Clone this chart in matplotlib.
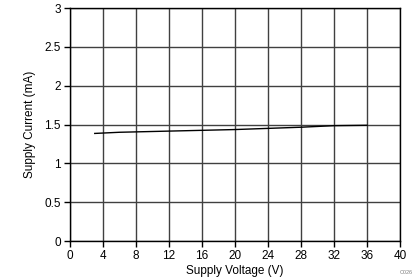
import matplotlib
matplotlib.use("Agg")
import matplotlib.pyplot as plt

voltage = [3, 4, 6, 8, 12, 16, 20, 24, 28, 30, 32, 36]
current = [1.385, 1.39, 1.40, 1.405, 1.415, 1.425, 1.435, 1.45, 1.465, 1.475, 1.485, 1.49]
xticks = [0, 4, 8, 12, 16, 20, 24, 28, 32, 36, 40]
yticks = [0, 0.5, 1, 1.5, 2, 2.5, 3]
ytick_labels = ["0", "0.5", "1", "1.5", "2", "2.5", "3"]

plt.rcParams['font.family'] = ['Liberation Sans', 'DejaVu Sans']
fig = plt.figure(figsize=(4.19, 2.79), dpi=100)
ax = fig.add_axes([70/419, 1-241/279, 330/419, 233/279])
ax.plot(voltage, current, color='black', lw=1.0)
ax.set_xlim(0, 40)
ax.set_ylim(0, 3)
ax.set_xticks(xticks)
ax.set_yticks(yticks)
ax.set_yticklabels(ytick_labels)
ax.grid(True, color='#404040', lw=1.0)
for s in ax.spines.values():
    s.set_color('black')
    s.set_linewidth(1.0)
ax.tick_params(labelsize=8.5, length=4, width=1, direction='out', pad=2.5)
ax.set_xlabel("Supply Voltage (V)", fontsize=8.5, labelpad=2)
ax.set_ylabel("Supply Current (mA)", fontsize=8.5, labelpad=6)
fig.text(0.985, 0.015, "C026", fontsize=4, color='#808080', ha='right', va='bottom')
fig.savefig("out.png", dpi=100)
